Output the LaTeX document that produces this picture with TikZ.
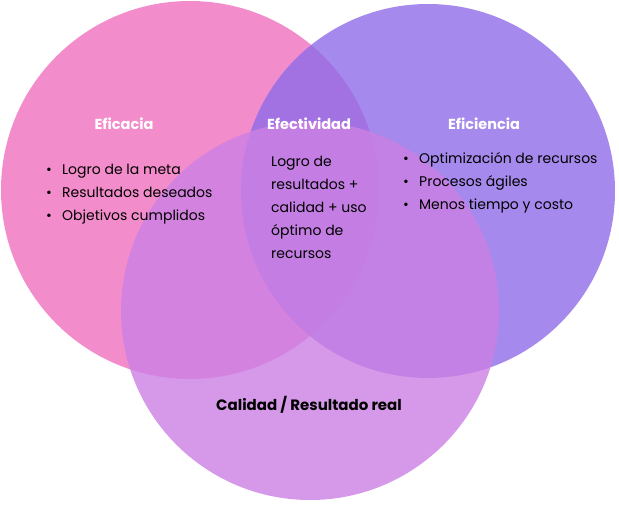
\documentclass[tikz,border=0pt]{standalone}
\usepackage{fontspec}
\setmainfont{Poppins}
\newcommand{\bl}{\makebox[16pt][l]{•}}
\begin{document}
\begin{tikzpicture}[x=1pt,y=-1pt,
  circ/.style={fill opacity=0.8,draw=none},
  head/.style={font=\fontsize{14.5}{16}\selectfont\bfseries,text=white},
  body/.style={font=\fontsize{14}{23}\selectfont,align=left,anchor=west,inner sep=0pt}]
\useasboundingbox[fill=white] (0,0) rectangle (619,512);
\definecolor{cpink}{HTML}{F070BE}
\definecolor{cpurp}{HTML}{8F6CE8}
\definecolor{clil}{HTML}{CC80E4}
\fill[cpink,circ] (190,190) circle (189);
\fill[cpurp,circ] (428,191) circle (187);
\fill[clil,circ] (310,311) circle (189);
\node[head] (a) at (124,124) {Eficacia};
\node[head] (b) at (309,124) {Efectividad};
\node[head] (c) at (484,124) {Eficiencia};
\node[body] (la) at (46,194) {\bl Logro de la meta\\\bl Resultados deseados\\\bl Objetivos cumplidos};
\node[body] (lb) at (271,207) {Logro de\\resultados +\\calidad + uso\\óptimo de\\recursos};
\node[body] (lc) at (403,183) {\bl Optimización de recursos\\\bl Procesos ágiles\\\bl Menos tiempo y costo};
\node[font=\fontsize{15}{17}\selectfont\bfseries] (d) at (309,405) {Calidad / Resultado real};
\end{tikzpicture}
\end{document}
